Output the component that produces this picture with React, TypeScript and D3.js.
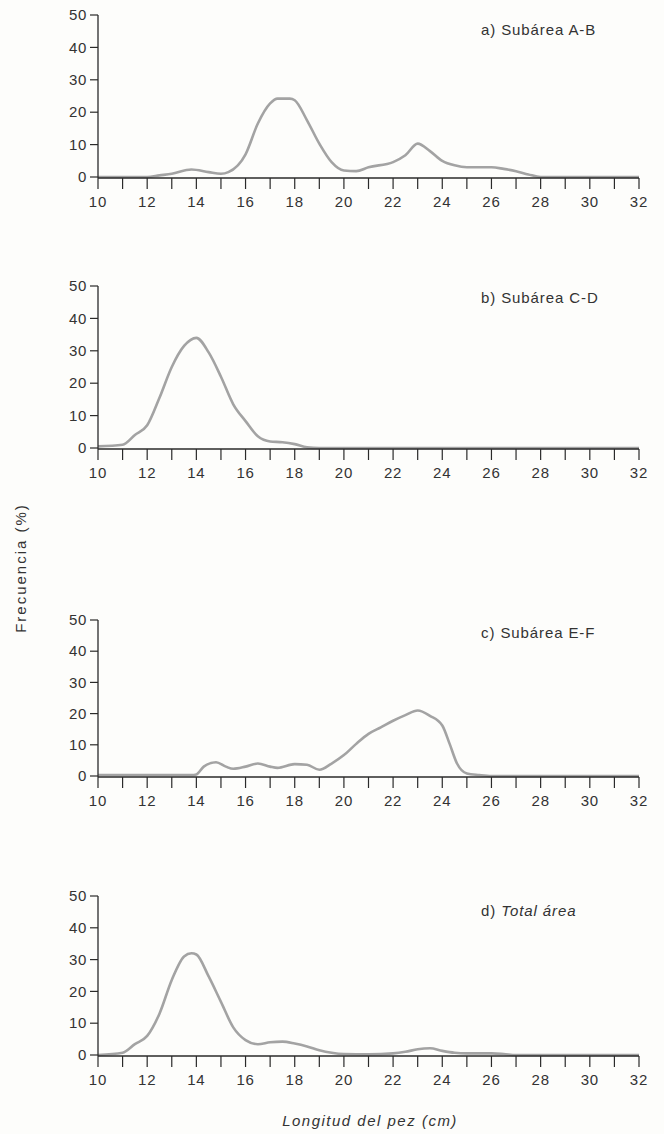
import React from "react";
import * as d3 from "d3";

const xTicksMajor = [10, 12, 14, 16, 18, 20, 22, 24, 26, 28, 30, 32];
const yTicks = [0, 10, 20, 30, 40, 50];

const lenA = [10, 11, 12, 12.5, 13, 13.8, 14.5, 15, 15.3, 16, 16.5, 17, 17.3, 17.8, 18, 18.5, 19, 19.5, 20, 20.5, 21, 22, 22.5, 23, 23.5, 24, 24.5, 25, 26, 26.5, 27, 27.5, 28, 32];
const valA = [0, 0, 0, 0.5, 1, 2.3, 1.5, 1, 1.5, 7, 16.5, 22.7, 24.2, 24.2, 23.7, 17.5, 10.3, 4.6, 2, 1.8, 3, 4.6, 6.7, 10.3, 8, 5, 3.6, 3, 3, 2.5, 1.8, 0.8, 0, 0];

const lenB = [10, 11, 11.5, 12, 12.5, 13, 13.5, 14, 14.5, 15, 15.5, 16, 16.5, 17, 17.5, 18, 18.5, 19, 32];
const valB = [0.5, 1, 4, 7, 15.5, 25, 31.5, 34, 29.5, 22, 13.5, 8.3, 3.6, 2, 1.8, 1.2, 0.2, 0, 0];

const lenC = [10, 13.8, 14, 14.3, 14.8, 15.2, 15.5, 16, 16.5, 17, 17.3, 18, 18.5, 19, 19.5, 20, 20.5, 21, 21.5, 22, 22.5, 23, 23.5, 24, 24.3, 24.6, 25, 25.5, 26, 32];
const valC = [0.3, 0.3, 0.5, 3, 4.4, 3, 2.3, 3, 4, 3, 2.6, 3.8, 3.6, 2, 4, 6.7, 10.3, 13.5, 15.6, 17.7, 19.5, 21, 19.3, 16.2, 10.3, 4, 0.8, 0.3, 0, 0];

const lenD = [10, 11, 11.5, 12, 12.5, 13, 13.5, 13.8, 14, 14.5, 15, 15.5, 16, 16.5, 17, 17.5, 18, 18.5, 19, 19.5, 20, 21, 22, 22.5, 23, 23.5, 24, 24.5, 25, 26, 26.5, 27, 32];
const valD = [0, 0.7, 3.4, 6, 13, 23.6, 31, 32, 31.6, 24.7, 16.7, 8.7, 4.7, 3.4, 4, 4.2, 3.6, 2.7, 1.5, 0.7, 0.3, 0.2, 0.5, 1, 1.8, 2.1, 1.3, 0.7, 0.5, 0.5, 0.3, 0, 0];

const panelLetters = ["a)", "b)", "c)", "d)"];
const panelNames = ["Subárea A-B", "Subárea C-D", "Subárea E-F", "Total área"];

const xAxisTitle = "Longitud del pez (cm)";
const yAxisTitle = "Frecuencia (%)";

const W = 664;
const H = 1134;
const FONT = "'Liberation Sans', Arial, Helvetica, sans-serif";

const panels = [
  { len: lenA, val: valA, y0: 177, y50: 15, titleY: 30 },
  { len: lenB, val: valB, y0: 448, y50: 286, titleY: 298 },
  { len: lenC, val: valC, y0: 776, y50: 620, titleY: 633 },
  { len: lenD, val: valD, y0: 1055, y50: 896, titleY: 911 },
];

const x = d3.scaleLinear().domain([10, 32]).range([98, 639]);
const minorTicks = d3.range(10, 33, 1);

function Panel({ p, i }: { p: any; i: number }) {
  const y = d3.scaleLinear().domain([0, 50]).range([p.y0, p.y50]);
  const pts = p.len.map((l: number, k: number) => [l, p.val[k]] as [number, number]);
  const line = d3
    .line<[number, number]>()
    .x((d) => x(d[0]))
    .y((d) => y(d[1]))
    .curve(d3.curveMonotoneX);
  const axisColor = "#2a2a2a";
  return (
    <g>
      <path d={line(pts) || ""} fill="none" stroke="#a3a3a3" strokeWidth={2.6} strokeLinejoin="round" />
      <line x1={x(10)} x2={x(10)} y1={y(50)} y2={y(0) + 1} stroke={axisColor} strokeWidth={1.3} />
      {yTicks.map((t) => (
        <g key={t}>
          <line x1={x(10) - 8} x2={x(10)} y1={y(t)} y2={y(t)} stroke={axisColor} strokeWidth={1.2} />
          <text x={x(10) - 11} y={y(t)} dy="0.35em" textAnchor="end" fontSize={15} letterSpacing={0.6} fill="#333" fontFamily={FONT}>
            {t}
          </text>
        </g>
      ))}
      <line x1={x(10)} x2={x(32)} y1={y(0) + 1} y2={y(0) + 1} stroke={axisColor} strokeWidth={1.3} />
      {minorTicks.map((t) => (
        <line key={t} x1={x(t)} x2={x(t)} y1={y(0) + 1} y2={y(0) + 12} stroke={axisColor} strokeWidth={1.2} />
      ))}
      {xTicksMajor.map((t) => (
        <text key={t} x={x(t)} y={y(0) + 25} dy="0.35em" textAnchor="middle" fontSize={15} letterSpacing={0.8} fill="#333" fontFamily={FONT}>
          {t}
        </text>
      ))}
      <text x={481} y={p.titleY} dy="0.35em" fontSize={15} letterSpacing={0.9} fill="#333" fontFamily={FONT}>
        {panelLetters[i] + " "}
        <tspan fontStyle={i === 3 ? "italic" : "normal"}>{panelNames[i]}</tspan>
      </text>
    </g>
  );
}

export default function App() {
  return (
    <svg width={W} height={H} style={{ position: "absolute", left: 0, top: 0, background: "#fdfdfb" }}>
      <rect width={W} height={H} fill="#fdfdfb" />
      {panels.map((p, i) => (
        <Panel key={i} p={p} i={i} />
      ))}
      <text x={370} y={1121} dy="0.35em" textAnchor="middle" fontSize={15} letterSpacing={1.5} fontStyle="italic" fill="#333" fontFamily={FONT}>
        {xAxisTitle}
      </text>
      <text
        transform={`translate(21,568) rotate(-90)`}
        dy="0.35em"
        textAnchor="middle"
        fontSize={15}
        letterSpacing={2}
        fill="#333"
        fontFamily={FONT}
      >
        {yAxisTitle}
      </text>
    </svg>
  );
}
